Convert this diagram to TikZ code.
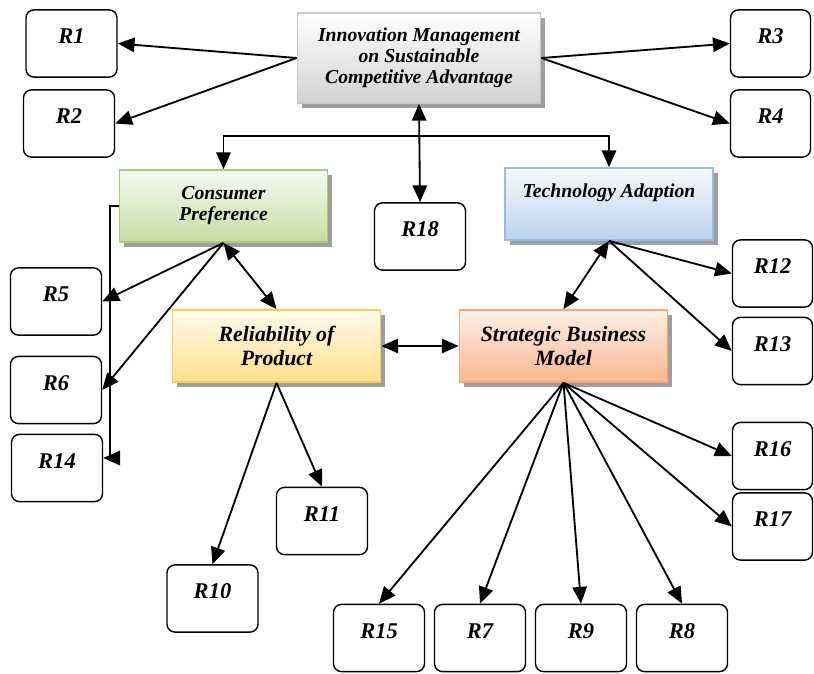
\documentclass[tikz,border=0pt]{standalone}
\usepackage{fontspec}
\setmainfont{Liberation Serif}
\usetikzlibrary{arrows.meta,shadows}

\definecolor{mainline}{HTML}{C8C8C8}
\definecolor{mainlow}{HTML}{D2D2D2}
\definecolor{consline}{HTML}{A9CB7E}
\definecolor{conslow}{HTML}{C4DDA2}
\definecolor{techline}{HTML}{9CBBE0}
\definecolor{techlow}{HTML}{BCD3EE}
\definecolor{reliline}{HTML}{F6CD55}
\definecolor{relilow}{HTML}{FFE08A}
\definecolor{stratline}{HTML}{F5A77A}
\definecolor{stratlow}{HTML}{F9B68E}

\tikzset{
  rbox/.style={draw, rounded corners=0.2cm, line width=1pt, inner sep=0pt,
    minimum width=2.275cm, text height=0.84cm, text depth=0.84cm,
    font=\fontsize{16}{18}\selectfont\bfseries\itshape},
  sbox/.style={rbox, minimum width=2cm},
  topic/.style={line width=1.2pt, align=center, minimum width=5.2cm, minimum height=1.8cm,
    drop shadow={shadow xshift=0.12cm, shadow yshift=-0.12cm, fill=black!38, opacity=1}},
  large/.style={font=\fontsize{15.5}{17.5}\selectfont\bfseries\itshape},
  link/.style={line width=1.3pt, ->},
  both/.style={line width=1.3pt, <->}
}

\begin{document}
\begin{tikzpicture}[x=0.025cm, y=-0.025cm, >={Triangle[length=0.42cm,width=0.36cm]},
    font=\fontsize{14}{15}\selectfont\bfseries\itshape]
  \useasboundingbox (0,0) rectangle (814,673);
  % central topic and the four factors
  \node[topic, draw=mainline, top color=white, bottom color=mainlow, minimum width=6.075cm, minimum height=2.25cm]
    (main) at (419,58) {Innovation Management\\on Sustainable\\Competitive Advantage};
  \node[topic, draw=consline, top color=white!85!conslow, bottom color=conslow] (consumer) at (223.5,206) {Consumer\\Preference};
  \node[topic, draw=techline, top color=white!85!techlow, bottom color=techlow, minimum height=0pt,
    inner sep=0pt, text height=0.725cm, text depth=1.075cm] (tech) at (609,204) {Technology Adaption};
  \node[topic, large, draw=reliline, top color=white!85!relilow, bottom color=relilow] (reli) at (276.5,346) {Reliability of\\Product};
  \node[topic, large, draw=stratline, top color=white!80!stratlow, bottom color=stratlow] (strat) at (563.5,346) {Strategic Business\\Model};
  % result boxes
  \node[rbox] (R1) at (71.5,43.5) {R1};
  \node[rbox] (R2) at (69,123.5) {R2};
  \node[sbox] (R3) at (770.5,43.5) {R3};
  \node[sbox] (R4) at (770.5,123.5) {R4};
  \node[rbox] (R18) at (420,236.5) {R18};
  \node[rbox] (R5) at (56,301.5) {R5};
  \node[rbox] (R6) at (56,390) {R6};
  \node[rbox] (R14) at (57,468) {R14};
  \node[sbox] (R12) at (772.5,273.5) {R12};
  \node[sbox] (R13) at (772.5,351) {R13};
  \node[rbox] (R11) at (322,521) {R11};
  \node[rbox] (R10) at (212.5,598.5) {R10};
  \node[sbox] (R16) at (772.5,456) {R16};
  \node[sbox] (R17) at (772.5,526.5) {R17};
  \node[rbox] (R15) at (379,638) {R15};
  \node[rbox] (R7) at (480,638) {R7};
  \node[rbox] (R9) at (581,638) {R9};
  \node[rbox] (R8) at (682,638) {R8};
  % connectors
  \coordinate (split) at (419,136);
  \draw[link] (main.west) -- (R1.east);
  \draw[link] (main.west) -- (R2.east);
  \draw[link] (main.east) -- (R3.west);
  \draw[link] (main.east) -- (R4.west);
  \draw[link] (split) -| (consumer.north);
  \draw[link] (split) -| (tech.north);
  \draw[both] (main.south) -- (R18.north);
  \draw[link] (consumer.west) -- ++(-9,0) |- ([yshift=0.25cm]R14.east);
  \draw[link] (consumer.south) -- (R5.east);
  \draw[link] (consumer.south) -- (R6.east);
  \draw[both] (consumer.south) -- (reli.north);
  \draw[both] (reli.east) -- (strat.west);
  \draw[both] (tech.south) -- (strat.north);
  \draw[link] (tech.south) -- (R12.west);
  \draw[link] (tech.south) -- (R13.west);
  \draw[link] (reli.south) -- (R10.north);
  \draw[link] (reli.south) -- (R11.north);
  \foreach \r in {R15,R7,R9,R8}
    \draw[link] (strat.south) -- (\r.north);
  \draw[link] (strat.south) -- (R16.west);
  \draw[link] (strat.south) -- (R17.west);
\end{tikzpicture}
\end{document}
